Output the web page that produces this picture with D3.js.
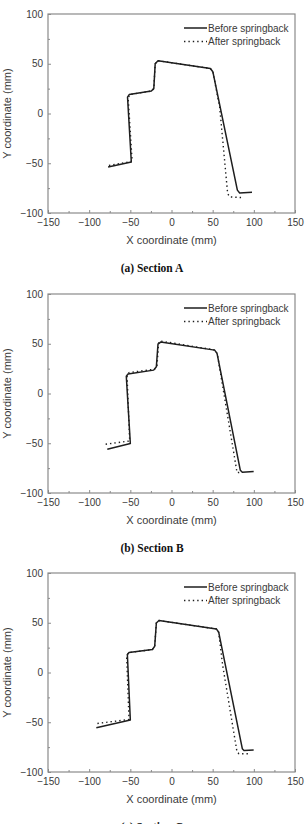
<!DOCTYPE html>
<html lang="en">
  <head>
    <meta charset="UTF-8" />
    <title>Springback sections</title>
    <script src="https://cdnjs.cloudflare.com/ajax/libs/d3/7.8.5/d3.min.js"></script>
    <style>
      body { margin: 0; background: #fff; }
      svg { display: block; }
    </style>
  </head>

  <body>
    <svg width="305" height="824"></svg>

    <script>
      // tick values
      const xTicks = [-150, -100, -50, 0, 50, 100, 150];
      const yTicks = [-100, -50, 0, 50, 100];
      const legendLabels = ["Before springback", "After springback"];
      const captions = ["(a) Section A", "(b) Section B", "(c) Section C"];

      // Section A
      const beforeA = [[-77, -53.7], [-48.8, -48.7], [-53.4, 16.5], [-51.4, 19], [-24.5, 22.6],
        [-21.5, 25], [-19.8, 50], [-16.4, 53], [47.2, 45.3], [50.2, 42], [80, -77],
        [82.8, -79.8], [97.8, -79.2]];
      const afterA = [[-76, -52.3], [-47.8, -48], [-52.6, 15], [-50.8, 19], [-24.5, 22.6],
        [-21.5, 25], [-19.8, 50], [-16.4, 53], [47.2, 45.3], [50.2, 42], [58.5, 6.5],
        [68.2, -80.5], [70.8, -83.8], [85.6, -84.5]];

      // Section B
      const beforeB = [[-78, -56], [-50, -50.3], [-54.9, 17.4], [-52.8, 19.5], [-21.7, 23.5],
        [-18.4, 26.8], [-16.4, 49.7], [-13.2, 51.7], [52.4, 43.6], [55.3, 40.3],
        [83.6, -77.2], [86, -79.2], [99.8, -78.5]];
      const afterB = [[-80, -51], [-50.8, -47.7], [-54, 18.5], [-51.5, 21], [-20.4, 24.5],
        [-17.6, 28], [-15.6, 51.2], [-13, 52.7], [53.6, 43.6], [56, 38],
        [79.6, -79.5], [84.8, -79.2]];

      // Section C
      const beforeC = [[-91.3, -55.5], [-50, -47.8], [-53.6, 18], [-51.6, 20], [-23.3, 23],
        [-20.4, 26.4], [-18.4, 49.8], [-15.2, 52.2], [54.5, 43.8], [57.3, 40.5],
        [86, -76.6], [88, -78.3], [99.8, -78]];
      const afterC = [[-90, -51.2], [-51.6, -47.2], [-54.5, 17], [-52, 20], [-23.3, 23],
        [-20.4, 26.4], [-18.4, 49.8], [-15.2, 52.2], [54.5, 43.8], [57.3, 40.5],
        [62, 8], [79.6, -80], [82, -81.6], [93, -81.6]];

      const sections = [[beforeA, afterA], [beforeB, afterB], [beforeC, afterC]];
      const panelTops = [14, 294, 573];

      const svg = d3.select("svg");
      const left = 48, right = 295, h = 199;
      const axisColor = "#8a8a8a", textColor = "#3a3a3a", lineColor = "#1e1e1e";
      const sans = "Liberation Sans, Arial, sans-serif";
      const dots = "1.4,3";

      const x = d3.scaleLinear().domain([-150, 150]).range([left, right]);

      sections.forEach(function (pair, i) {
        const top = panelTops[i];
        const y = d3.scaleLinear().domain([-100, 100]).range([top + h, top]);
        const g = svg.append("g");

        // frame
        g.append("rect")
          .attr("x", left).attr("y", top)
          .attr("width", right - left).attr("height", h)
          .attr("fill", "none").attr("stroke", axisColor).attr("stroke-width", 1.2);

        // bottom axis with inward ticks
        const xa = g.append("g").attr("transform", `translate(0,${top + h})`)
          .call(d3.axisBottom(x).tickValues(xTicks).tickSizeInner(-3).tickSizeOuter(0).tickPadding(6));
        const xm = g.append("g").attr("transform", `translate(0,${top + h})`)
          .call(d3.axisBottom(x).tickValues(d3.range(-125, 150, 50)).tickSizeInner(-2).tickSizeOuter(0).tickFormat(""));

        // left axis with inward ticks
        const ya = g.append("g").attr("transform", `translate(${left},0)`)
          .call(d3.axisLeft(y).tickValues(yTicks).tickSizeInner(-3).tickSizeOuter(0).tickPadding(5));
        const ym = g.append("g").attr("transform", `translate(${left},0)`)
          .call(d3.axisLeft(y).tickValues([-75, -25, 25, 75]).tickSizeInner(-2).tickSizeOuter(0).tickFormat(""));

        [xa, xm, ya, ym].forEach(function (a) {
          a.select(".domain").remove();
          a.selectAll("line").attr("stroke", axisColor).attr("stroke-width", 1);
          a.selectAll("text").attr("fill", textColor).style("font-family", sans).style("font-size", "10px");
        });

        // axis titles
        g.append("text")
          .attr("x", (left + right) / 2).attr("y", top + h + 31)
          .attr("text-anchor", "middle").attr("fill", textColor)
          .style("font-family", sans).style("font-size", "11px")
          .text("X coordinate (mm)");
        g.append("text")
          .attr("transform", `translate(11,${top + h / 2}) rotate(-90)`)
          .attr("text-anchor", "middle").attr("fill", textColor)
          .style("font-family", sans).style("font-size", "11px")
          .text("Y coordinate (mm)");

        // curves
        const line = d3.line().x(d => x(d[0])).y(d => y(d[1]));
        g.append("path").datum(pair[1]).attr("d", line)
          .attr("fill", "none").attr("stroke", lineColor).attr("stroke-width", 1.4)
          .attr("stroke-dasharray", dots);
        g.append("path").datum(pair[0]).attr("d", line)
          .attr("fill", "none").attr("stroke", lineColor).attr("stroke-width", 1.5)
          .attr("stroke-linejoin", "round");

        // legend
        legendLabels.forEach(function (lab, j) {
          const ly = top + 14 + j * 13.5;
          g.append("line")
            .attr("x1", 184).attr("x2", 207).attr("y1", ly).attr("y2", ly)
            .attr("stroke", lineColor)
            .attr("stroke-width", j === 0 ? 1.5 : 1.4)
            .attr("stroke-dasharray", j === 0 ? null : dots);
          g.append("text")
            .attr("x", 208).attr("y", ly + 3.5)
            .attr("fill", textColor)
            .style("font-family", sans).style("font-size", "10px")
            .text(lab);
        });

        // caption
        g.append("text")
          .attr("x", 152).attr("y", top + h + 59)
          .attr("text-anchor", "middle").attr("fill", "#111")
          .style("font-family", "Liberation Serif, Times New Roman, serif")
          .style("font-size", "11.5px").style("font-weight", "bold")
          .text(captions[i]);
      });
    </script>
  </body>
</html>
